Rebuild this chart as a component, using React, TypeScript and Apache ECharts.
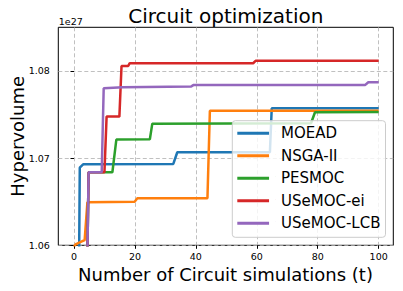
import React, { useEffect, useRef } from "react";
import * as echarts from "echarts";

const xTicks = [0, 20, 40, 60, 80, 100];
const yTicks = [1.06, 1.07, 1.08];

const seriesNames = ["MOEAD", "NSGA-II", "PESMOC", "USeMOC-ei", "USeMOC-LCB"];
const seriesColors = ["#1f77b4", "#ff7f0e", "#2ca02c", "#d62728", "#9467bd"];

const moead: [number, number][] = [
  [1.5, 1.05], [1.9, 1.0689], [3, 1.06929], [32.6, 1.06933], [33.9, 1.07067],
  [64.3, 1.07067], [64.9, 1.07572], [100, 1.07572],
];
const nsga2: [number, number][] = [
  [0, 1.0598], [0.5, 1.06011], [2.4, 1.06041], [3.5, 1.0606], [4.4, 1.06493],
  [19.9, 1.065], [20.8, 1.06539], [43.8, 1.06539], [44.6, 1.07544], [100, 1.07544],
];
const pesmoc: [number, number][] = [
  [4, 1.05], [4.8, 1.06838], [12.6, 1.06838], [13.9, 1.07212], [24.9, 1.07216],
  [25.7, 1.07395], [77.8, 1.074], [79.1, 1.07526], [100, 1.07528],
];
const usemocEi: [number, number][] = [
  [4, 1.05], [4.8, 1.06838], [10, 1.06838], [10.7, 1.07476], [14.9, 1.07476],
  [15.6, 1.08057], [17.8, 1.08057], [18.3, 1.08088], [58.8, 1.08088],
  [59.6, 1.08115], [100, 1.08115],
];
const usemocLcb: [number, number][] = [
  [4, 1.05], [4.8, 1.06838], [9.1, 1.06838], [9.75, 1.07801], [16, 1.07813],
  [38.5, 1.07822], [39.3, 1.07839], [95.6, 1.07839], [96.6, 1.0787], [100, 1.0787],
];

const seriesData = [moead, nsga2, pesmoc, usemocEi, usemocLcb];

const FONT = '"DejaVu Sans", sans-serif';

export default function App() {
  const ref = useRef<HTMLDivElement>(null);
  useEffect(() => {
    if (!ref.current) return;
    const chart = echarts.init(ref.current, null, { renderer: "svg" });
    chart.setOption({
      animation: false,
      backgroundColor: "#ffffff",
      grid: {
        left: 58.3,
        right: 9.7,
        top: 27.3,
        bottom: 45.7,
        show: true,
        borderColor: "#000000",
        borderWidth: 1,
        backgroundColor: "transparent",
      },
      xAxis: {
        type: "value",
        min: -5.15,
        max: 104.8,
        axisLine: { show: false },
        axisTick: {
          show: true,
          customValues: xTicks,
          length: 3.5,
          lineStyle: { color: "#000", width: 1 },
        },
        axisLabel: {
          customValues: xTicks,
          color: "#000",
          fontSize: 9.5,
          fontFamily: FONT,
          margin: 6.5,
        },
        splitLine: {
          show: true,
          lineStyle: { color: "#b0b0b0", width: 0.8, type: [4, 2.5] },
        },
      },
      yAxis: {
        type: "value",
        min: 1.06,
        max: 1.085,
        axisLine: { show: false },
        axisTick: {
          show: true,
          customValues: yTicks,
          length: 3.5,
          lineStyle: { color: "#000", width: 1 },
        },
        axisLabel: {
          customValues: yTicks,
          color: "#000",
          fontSize: 9.5,
          fontFamily: FONT,
          margin: 8.5,
          formatter: (v: number) => v.toFixed(2),
        },
        splitLine: {
          show: true,
          lineStyle: { color: "#b0b0b0", width: 0.8, type: [4, 2.5] },
        },
      },
      legend: {
        orient: "vertical",
        left: 232.3,
        top: 120.7,
        padding: [3.6, 5, 5, 5],
        itemGap: 4.5,
        itemWidth: 38.7,
        itemHeight: 3,
        symbolKeepAspect: false,
        icon: "path://M0,0H32V3H0Z M38.8,0H39V0.2H38.8Z",
        backgroundColor: "rgba(255,255,255,0.8)",
        borderColor: "#cccccc",
        borderWidth: 1,
        borderRadius: 3,
        textStyle: { fontSize: 15, fontFamily: FONT, color: "#000", lineHeight: 18 },
        data: seriesNames,
      },
      graphic: [
        {
          type: "text",
          x: 225.8,
          y: 15.5,
          style: {
            text: "Circuit optimization",
            font: `20px ${FONT}`,
            fill: "#000",
            align: "center",
            verticalAlign: "middle",
          },
        },
        {
          type: "text",
          x: 225.5,
          y: 274.4,
          style: {
            text: "Number of Circuit simulations (t)",
            font: `18px ${FONT}`,
            fill: "#000",
            align: "center",
            verticalAlign: "middle",
          },
        },
        {
          type: "text",
          x: 17.7,
          y: 136.3,
          rotation: Math.PI / 2,
          style: {
            text: "Hypervolume",
            font: `18px ${FONT}`,
            fill: "#000",
            align: "center",
            verticalAlign: "middle",
          },
        },
        {
          type: "text",
          x: 58.8,
          y: 21.7,
          style: {
            text: "1e27",
            font: `9.5px ${FONT}`,
            fill: "#000",
            align: "left",
            verticalAlign: "middle",
          },
        },
      ],
      series: seriesNames.map((name, i) => ({
        name,
        type: "line",
        data: seriesData[i],
        symbol: "none",
        clip: true,
        color: seriesColors[i],
        lineStyle: { color: seriesColors[i], width: 2.5 },
        itemStyle: { color: seriesColors[i] },
      })),
    });
    return () => chart.dispose();
  }, []);
  return (
    <div
      ref={ref}
      style={{ position: "fixed", left: 0, top: 0, width: 403, height: 291 }}
    />
  );
}
